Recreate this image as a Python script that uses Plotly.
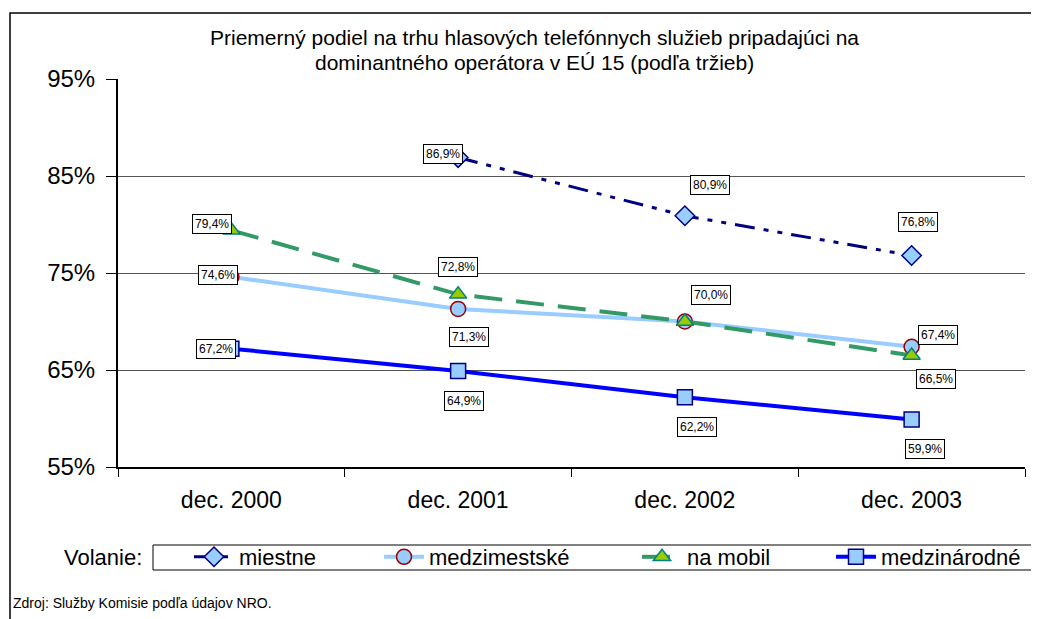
import plotly.graph_objects as go

categories = ["dec. 2000", "dec. 2001", "dec. 2002", "dec. 2003"]
miestne = [None, 86.9, 80.9, 76.8]
medzimestske = [74.6, 71.3, 70.0, 67.4]
na_mobil = [79.4, 72.8, 70.0, 66.5]
medzinarodne = [67.2, 64.9, 62.2, 59.9]
series_names = ["miestne", "medzimestské", "na mobil", "medzinárodné"]
y_ticks = [55, 65, 75, 85, 95]

title_lines = ["Priemerný podiel na trhu hlasových telefónnych služieb pripadajúci na",
               "dominantného operátora v EÚ 15 (podľa tržieb)"]
source_text = "Zdroj: Služby Komisie podľa údajov NRO."

OFF = 8  # page body margin offset
W, H = 1039 - OFF, 619 - OFF
ML, MT = 118 - OFF, 79 - OFF
PR, PB = 1025 - OFF, 467 - OFF
MR, MB = W - PR, H - PB
PW, PH = PR - ML, PB - MT


def px2x(px):
    return (px - OFF - ML) / PW


def py2y(py):
    return (PB - (py - OFF)) / PH


# label offsets (pixels) per series per point
label_offsets = [
    [None, (-15, 4), (25, 31), (6, 34)],
    [(-13, 2), (11, -28), (26, 27), (26, 12)],
    [(-19, 6), (0, 27), (26, 27), (24, -24)],
    [(-15, 0), (6, -30), (12, -30), (13, -30)],
]
legend_text_x = [240, 430, 688, 882]

styles = [
    dict(line=dict(color="#000080", width=3, dash="20px,9px,5px,9px,5px,9px"),
         marker=dict(symbol="diamond", size=15, color="#99CCFF", line=dict(color="#000080", width=1.5))),
    dict(line=dict(color="#99CCFF", width=4),
         marker=dict(symbol="circle", size=15, color="#99CCFF", line=dict(color="#990000", width=1.5))),
    dict(line=dict(color="#339966", width=4, dash="28px,14px"),
         marker=dict(symbol="triangle-up", size=15, color="#99CC00", line=dict(color="#008080", width=1.5))),
    dict(line=dict(color="#0000FF", width=4),
         marker=dict(symbol="square", size=15, color="#99CCFF", line=dict(color="#000080", width=1.5))),
]

all_series = [miestne, medzimestske, na_mobil, medzinarodne]
legend_ids = ["legend", "legend2", "legend3", "legend4"]

fig = go.Figure()
for name, vals, st, lid in zip(series_names, all_series, styles, legend_ids):
    fig.add_trace(go.Scatter(x=categories, y=vals, name=name, mode="lines+markers",
                             line=st["line"], marker=st["marker"], connectgaps=False,
                             legend=lid))

annotations = []
for vals, offs in zip(all_series, label_offsets):
    for c, v, o in zip(categories, vals, offs):
        if v is None or o is None:
            continue
        annotations.append(dict(
            x=c, y=v, xref="x", yref="y", text=f"{v:.1f}%".replace(".", ","),
            showarrow=False, xshift=o[0], yshift=o[1],
            font=dict(family="Arial", size=12, color="black"),
            bgcolor="white", bordercolor="black", borderwidth=1, borderpad=2))

annotations.append(dict(x=px2x(144), y=py2y(557), xref="paper", yref="paper",
                        text="Volanie:", showarrow=False, xanchor="right", yanchor="middle",
                        font=dict(family="Arial", size=22, color="black")))
annotations.append(dict(x=px2x(11), y=py2y(603), xref="paper", yref="paper",
                        text=source_text, showarrow=False, xanchor="left", yanchor="middle",
                        font=dict(family="Arial", size=14, color="black")))
for line, yy in zip(title_lines, [38, 63]):
    annotations.append(dict(x=px2x(534), y=py2y(yy), xref="paper", yref="paper",
                            text=line, showarrow=False, xanchor="center", yanchor="middle",
                            font=dict(family="Arial", size=21, color="black")))

layout_legends = {}
for lid, tx in zip(legend_ids, legend_text_x):
    layout_legends[lid] = dict(orientation="h", x=px2x(tx - 51), y=py2y(557),
                               xanchor="left", yanchor="middle", borderwidth=0,
                               bgcolor="rgba(0,0,0,0)",
                               font=dict(family="Arial", size=22, color="black"),
                               itemwidth=40)

fig.update_layout(
    width=W, height=H,
    margin=dict(l=ML, r=MR, t=MT, b=MB, autoexpand=False),
    paper_bgcolor="white", plot_bgcolor="white",
    font=dict(family="Arial", color="black"),
    showlegend=True,
    annotations=annotations,
    xaxis=dict(showline=True, linecolor="black", linewidth=1.5, ticks="outside", ticklen=8,
               tickson="boundaries", tickcolor="black", showgrid=False,
               tickfont=dict(family="Arial", size=23, color="black"), range=[-0.5, 3.5],
               ticklabelstandoff=12),
    yaxis=dict(range=[55, 95], tickvals=y_ticks, ticktext=[f"{t}%" for t in y_ticks],
               showline=True, linecolor="black", linewidth=2, ticks="outside", ticklen=10,
               tickcolor="black", showgrid=True, gridcolor="#555555", gridwidth=1,
               tickfont=dict(family="Arial", size=24, color="black"), zeroline=False,
               ticklabelstandoff=6),
    shapes=[dict(type="rect", xref="paper", yref="paper",
                 x0=px2x(10), x1=px2x(1045), y0=py2y(625), y1=py2y(13),
                 line=dict(color="black", width=1.5), fillcolor="rgba(0,0,0,0)"),
            dict(type="rect", xref="paper", yref="paper",
                 x0=px2x(153), x1=px2x(1045), y0=py2y(570), y1=py2y(545),
                 line=dict(color="black", width=1), fillcolor="rgba(0,0,0,0)")],
    **layout_legends,
)

fig.write_html("out.html")
